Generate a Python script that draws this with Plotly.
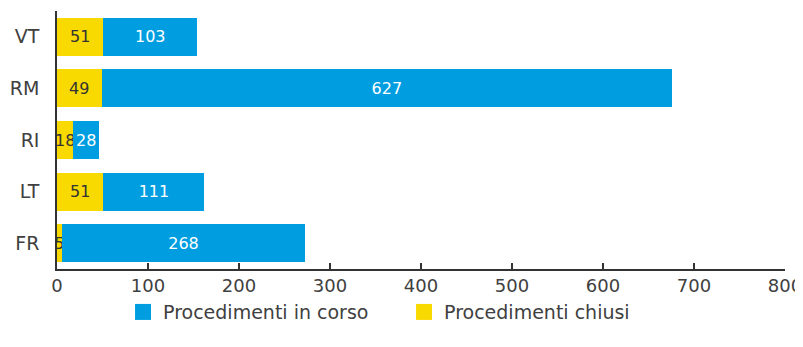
import plotly.graph_objects as go

categories = ["VT", "RM", "RI", "LT", "FR"]
chiusi = [51, 49, 18, 51, 5]
in_corso = [103, 627, 28, 111, 268]
x_ticks = [0, 100, 200, 300, 400, 500, 600, 700, 800]

BLUE = "#009EE0"
YELLOW = "#F8DA00"
FONT = "DejaVu Sans"
TXT = "#404040"

fig = go.Figure()
fig.add_trace(go.Bar(
    y=categories, x=chiusi, orientation="h", name="Procedimenti chiusi",
    marker=dict(color=YELLOW, line=dict(width=0)),
    text=chiusi, textposition="inside", insidetextanchor="middle", textangle=0,
    textfont=dict(color="#333333", size=16, family=FONT),
    showlegend=False,
))
fig.add_trace(go.Bar(
    y=categories, x=in_corso, orientation="h", name="Procedimenti in corso",
    marker=dict(color=BLUE, line=dict(width=0)),
    text=in_corso, textposition="inside", insidetextanchor="middle", textangle=0,
    textfont=dict(color="white", size=16, family=FONT),
    showlegend=False,
))
# legend entries
fig.add_trace(go.Scatter(x=[None], y=[None], mode="markers", name="Procedimenti in corso",
                         marker=dict(symbol="square", size=16, color=BLUE)))
fig.add_trace(go.Scatter(x=[None], y=[None], mode="markers", name="Procedimenti chiusi",
                         marker=dict(symbol="square", size=16, color=YELLOW)))

# the page body has an 8px margin; figure sized/margined to compensate
fig.update_layout(
    barmode="stack",
    bargap=0.26,
    width=795, height=331,
    margin=dict(l=49, r=18, t=3, b=70, autoexpand=False),
    paper_bgcolor="white", plot_bgcolor="white",
    font=dict(family=FONT, size=16, color=TXT),
    uniformtext=dict(minsize=16, mode="show"),
    legend=dict(orientation="h", x=0.0907, y=-0.167, xanchor="left", yanchor="middle",
                traceorder="normal", bgcolor="rgba(0,0,0,0)",
                font=dict(size=19, color=TXT), entrywidth=236, entrywidthmode="pixels"),
    xaxis=dict(range=[0, 800], tickvals=x_ticks, showgrid=False, zeroline=False,
               automargin=False, ticklabeloverflow="allow",
               showline=True, linecolor="#333333", linewidth=1.5,
               ticks="inside", ticklen=6, tickcolor="#333333", tickwidth=1.5,
               tickfont=dict(size=18, color=TXT)),
    yaxis=dict(categoryorder="array", categoryarray=categories, autorange="reversed",
               automargin=False,
               showgrid=False, zeroline=False, showline=True, linecolor="#333333",
               linewidth=1.5, ticks="", ticklabelstandoff=12,
               tickfont=dict(size=19, color=TXT)),
)

fig.write_html("out.html")
